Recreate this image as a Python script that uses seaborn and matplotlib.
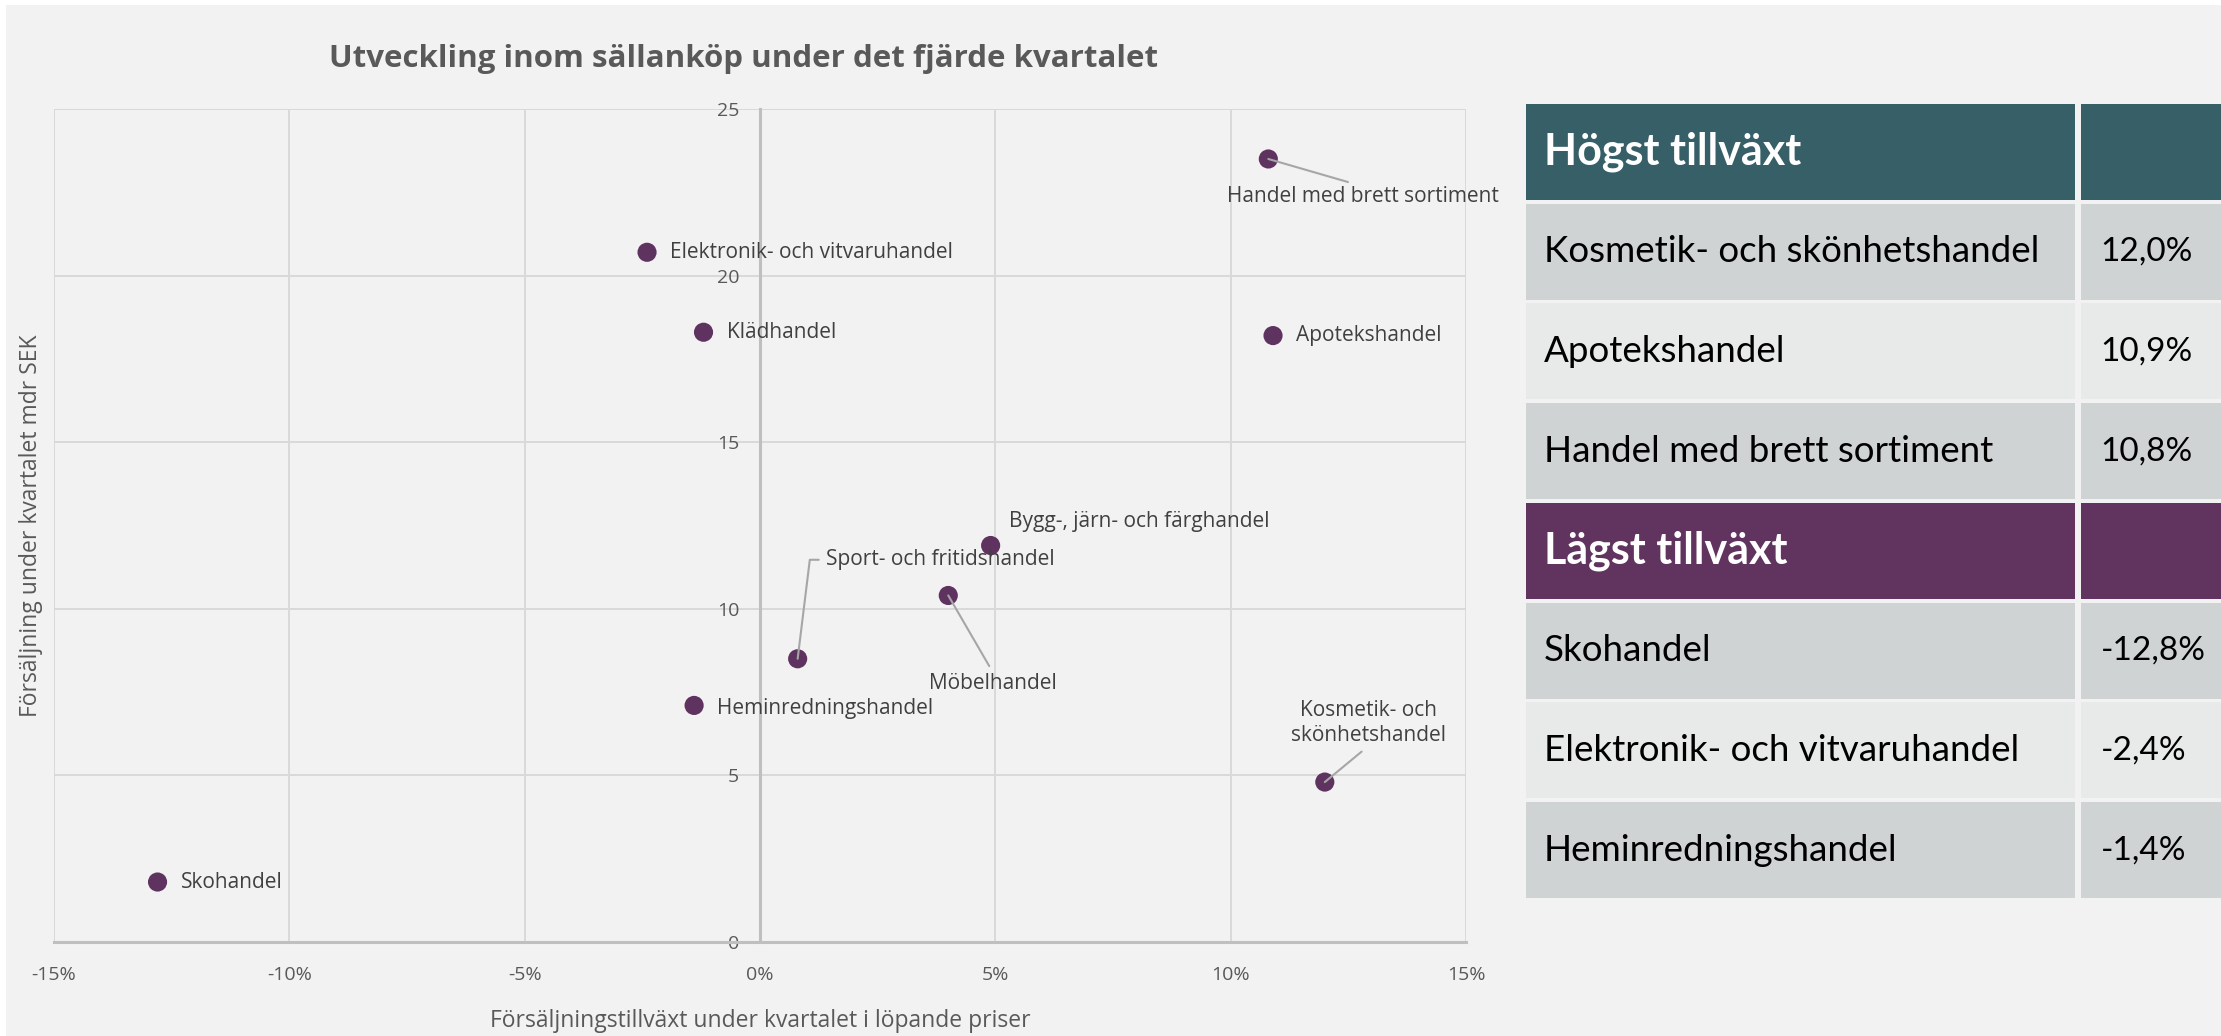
import numpy as np
import pandas as pd
import seaborn as sns
import matplotlib.pyplot as plt
from matplotlib.patches import Rectangle

# data
branscher = ['Handel med brett sortiment', 'Elektronik- och vitvaruhandel', 'Klädhandel',
             'Apotekshandel', 'Bygg-, järn- och färghandel', 'Sport- och fritidshandel',
             'Möbelhandel', 'Heminredningshandel', 'Kosmetik- och skönhetshandel', 'Skohandel']
tillvaxt = [10.8, -2.4, -1.2, 10.9, 4.9, 0.8, 4.0, -1.4, 12.0, -12.8]   # procent
forsaljning = [23.5, 20.7, 18.3, 18.2, 11.9, 8.5, 10.4, 7.1, 4.8, 1.8]  # mdr SEK

x_ticks = [-15, -10, -5, 0, 5, 10, 15]
y_ticks = [0, 5, 10, 15, 20, 25]

df = pd.DataFrame({'bransch': branscher, 'tillvaxt': tillvaxt, 'forsaljning': forsaljning})

# label placement (offset in pixels, alignment, leader line)
etiketter = {
    'Handel med brett sortiment': dict(off=(95, -38), ha='center', line=(0.5, 1)),
    'Elektronik- och vitvaruhandel': dict(off=(23, 0), ha='left'),
    'Klädhandel': dict(off=(23, 0), ha='left'),
    'Apotekshandel': dict(off=(23, 0), ha='left'),
    'Bygg-, järn- och färghandel': dict(off=(18, 24), ha='left'),
    'Sport- och fritidshandel': dict(off=(28, 99), ha='left', line=(0, 0.5), angle=True),
    'Möbelhandel': dict(off=(45, -88), ha='center', line=(0.5, 1)),
    'Heminredningshandel': dict(off=(23, -3), ha='left'),
    'Kosmetik- och skönhetshandel': dict(off=(44, 59), ha='center', line=(0.5, 0),
                                         text='Kosmetik- och\nskönhetshandel'),
    'Skohandel': dict(off=(23, 0), ha='left'),
}

sns.set_style('white')
plt.rcParams['font.family'] = ['Open Sans', 'DejaVu Sans']

W, H = 2221, 1036
fig = plt.figure(figsize=(W / 100, H / 100), dpi=100, facecolor='white')
fig.patches.append(Rectangle((6 / W, 0), (W - 6) / W, (H - 5) / H, transform=fig.transFigure,
                             facecolor='#f2f2f2', edgecolor='none', zorder=-10))

ax = fig.add_axes([54 / W, (H - 942) / H, (1466 - 54) / W, (942 - 109) / H])
ax.set_facecolor('none')

sns.scatterplot(data=df, x='tillvaxt', y='forsaljning', ax=ax, s=190, color='#5f3360',
                edgecolor='none', zorder=5, legend=False)

ax.set_xlim(-15, 15)
ax.set_ylim(0, 25)
ax.set_xticks(x_ticks)
ax.set_xticklabels([f'{t}%' for t in x_ticks])
ax.set_yticks(y_ticks)
ax.tick_params(axis='both', length=0, labelsize=14, labelcolor='#595959')
ax.tick_params(axis='x', pad=17)
ax.tick_params(axis='y', pad=15)
ax.grid(True, color='#d9d9d9', lw=1.4)
ax.set_axisbelow(True)
for s in ['top', 'right']:
    ax.spines[s].set_visible(False)
ax.spines['left'].set_position(('data', 0))
for s in ['left', 'bottom']:
    ax.spines[s].set_color('#bfbfbf')
    ax.spines[s].set_linewidth(2.2)

ax.set_xlabel('Försäljningstillväxt under kvartalet i löpande priser', fontsize=16.5, color='#595959')
ax.set_ylabel('Försäljning under kvartalet mdr SEK', fontsize=16.5, color='#595959')
ax.xaxis.set_label_coords(0.5, -0.081)
ax.yaxis.set_label_coords(-0.008, 0.5)

for _, r in df.iterrows():
    e = etiketter[r['bransch']]
    txt = e.get('text', r['bransch'])
    kw = dict(xy=(r['tillvaxt'], r['forsaljning']), xytext=e['off'], textcoords='offset pixels',
              ha=e['ha'], va='center', fontsize=15, color='#404040', multialignment='center',
              zorder=6)
    if 'line' in e:
        ap = dict(arrowstyle='-', color='#a6a6a6', lw=1.5, relpos=e['line'], shrinkA=3, shrinkB=0)
        if e.get('angle'):
            ap['connectionstyle'] = 'angle,angleA=0,angleB=83,rad=0'
            ap['patchA'] = None
            ap['shrinkA'] = 5
        kw['arrowprops'] = ap
    ax.annotate(txt, **kw)

fig.text(744 / W, 1 - 59 / H, 'Utveckling inom sällanköp under det fjärde kvartalet',
         ha='center', va='center', fontsize=22.5, fontweight='bold', color='#595959')

# table with highest / lowest growth
topp = df.sort_values('tillvaxt', ascending=False).head(3)
botten = df.sort_values('tillvaxt').head(3)
rader = [('Högst tillväxt', None, 'head', '#375f68')]
rader += [(b, v, 'row', c) for (b, v), c in zip(topp[['bransch', 'tillvaxt']].values,
                                                   ['#cfd3d4', '#e8eaea', '#cfd3d4'])]
rader += [('Lägst tillväxt', None, 'head', '#61345f')]
rader += [(b, v, 'row', c) for (b, v), c in zip(botten[['bransch', 'tillvaxt']].values,
                                                   ['#cfd3d4', '#e8eaea', '#cfd3d4'])]

tab = fig.add_axes([1526 / W, (H - 900) / H, (W - 1526) / W, (900 - 102) / H])
tab.set_xlim(0, 1)
tab.set_ylim(len(rader), 0)
tab.axis('off')
gap = 0.04
split = (2075 - 1526) / (W - 1526)
split2 = (2081 - 1526) / (W - 1526)
for i, (namn, val, typ, farg) in enumerate(rader):
    tab.add_patch(Rectangle((0, i + gap / 2), split, 1 - gap, facecolor=farg, edgecolor='none'))
    tab.add_patch(Rectangle((split2, i + gap / 2), 1 - split2, 1 - gap, facecolor=farg, edgecolor='none'))
    if typ == 'head':
        tab.text(0.026, i + 0.5, namn, va='center', ha='left', fontsize=31, fontweight='bold',
                 color='white', family=['Lato', 'DejaVu Sans'])
    else:
        tab.text(0.026, i + 0.5, namn, va='center', ha='left', fontsize=26.5, color='black',
                 family=['Lato', 'DejaVu Sans'])
        tab.text(0.827, i + 0.5, f'{val:.1f}%'.replace('.', ','), va='center', ha='left',
                 fontsize=24, color='black', family=['Lato', 'DejaVu Sans'])

fig.savefig('out.png', dpi=100, facecolor=fig.get_facecolor())
